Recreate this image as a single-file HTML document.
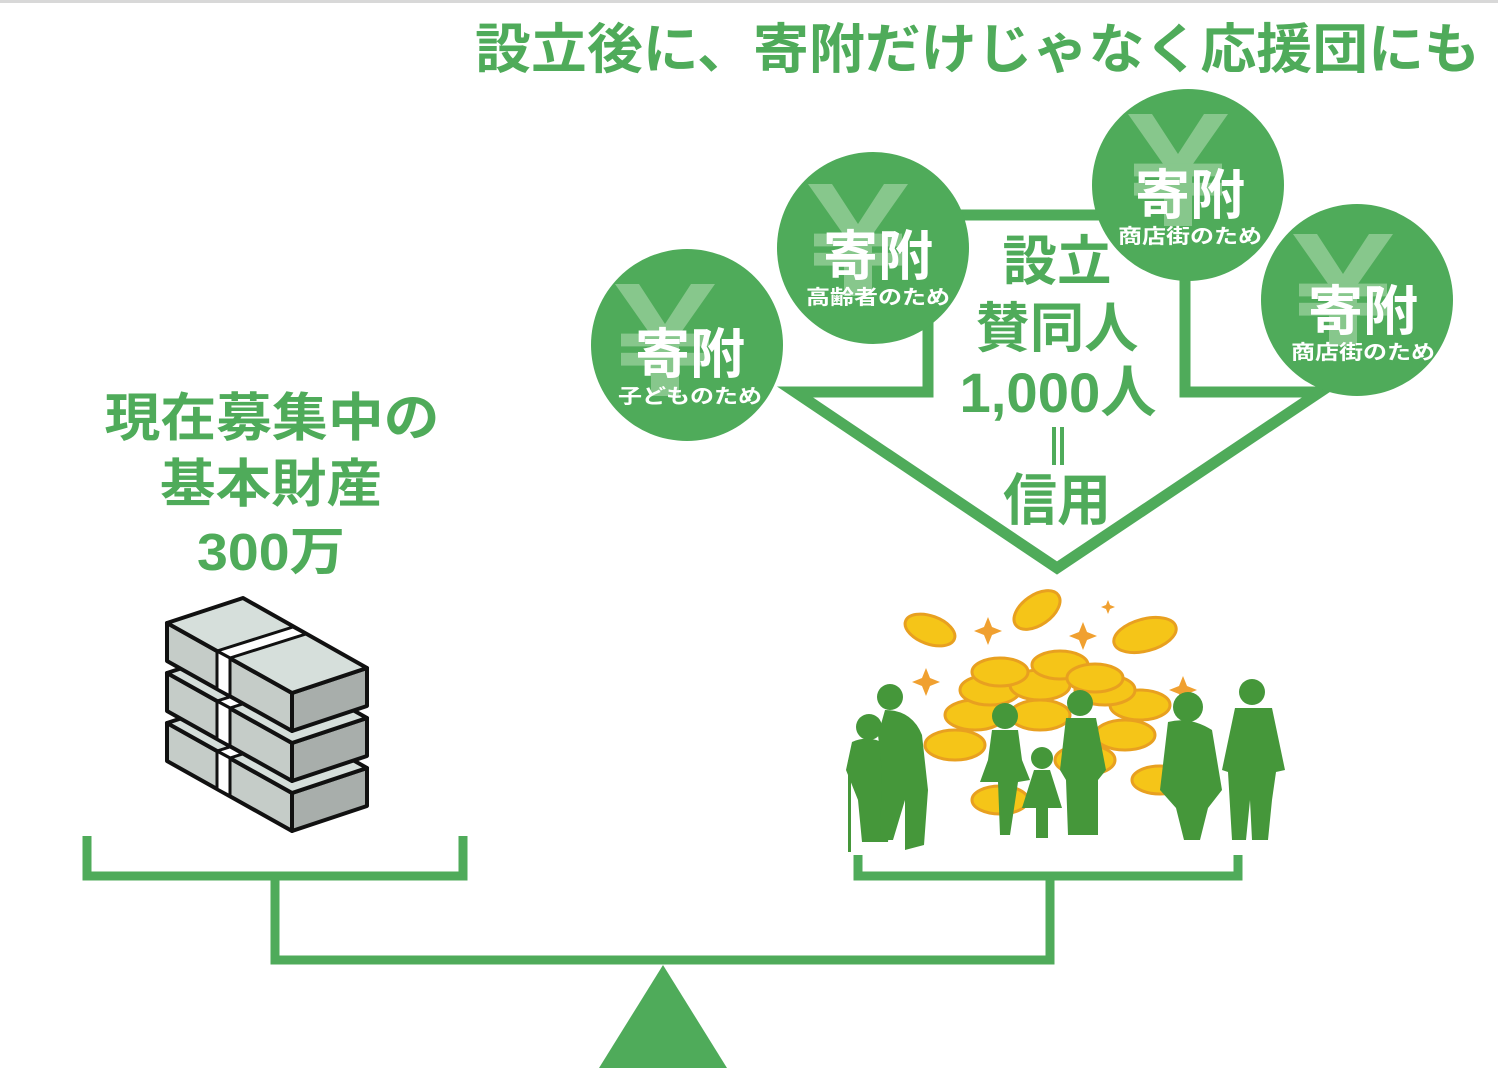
<!DOCTYPE html>
<html><head><meta charset="utf-8"><style>
html,body{margin:0;padding:0;background:#fff;}
svg{display:block}
text{font-family:"Liberation Sans","Noto Sans CJK JP",sans-serif;font-weight:bold}
</style></head><body>
<svg width="1498" height="1080" viewBox="0 0 1498 1080" xmlns="http://www.w3.org/2000/svg">
<rect x="0" y="0" width="1498" height="3" fill="#d8d8d8"/>
<text x="475" y="68" font-size="54" fill="#4fab5a" textLength="1005" lengthAdjust="spacingAndGlyphs">設立後に、寄附だけじゃなく応援団にも</text>

<g fill="#4fab5a" font-size="52" text-anchor="middle">
<text x="272" y="436" textLength="335" lengthAdjust="spacingAndGlyphs">現在募集中の</text>
<text x="271" y="502" textLength="222" lengthAdjust="spacingAndGlyphs">基本財産</text>
<text x="271" y="570" textLength="148" lengthAdjust="spacingAndGlyphs">300万</text>
</g>

<path d="M795 392 L928 392 L928 215 L1185 215 L1185 392 L1320 392 L1057 568 Z" fill="none" stroke="#4fab5a" stroke-width="11" stroke-linejoin="miter"/>

<g fill="#4fab5a" text-anchor="middle">
<text x="1057" y="280" font-size="54" textLength="109" lengthAdjust="spacingAndGlyphs">設立</text>
<text x="1057" y="347" font-size="54" textLength="163" lengthAdjust="spacingAndGlyphs">賛同人</text>
<text x="1058" y="412" font-size="56" textLength="197" lengthAdjust="spacingAndGlyphs">1,000人</text>
<rect x="1052" y="427" width="4" height="38"/><rect x="1060" y="427" width="4" height="38"/>
<text x="1057" y="520" font-size="56" textLength="108" lengthAdjust="spacingAndGlyphs">信用</text>
</g>

<defs>
<g id="yen">
<path d="M-50 -70 L-26 -70 L0 -20 L26 -70 L50 -70 L14 -6 L14 70 L-14 70 L-14 -6 Z" fill="#87c78c"/>
<rect x="-44" y="-8" width="88" height="16" fill="#87c78c"/>
<rect x="-44" y="16" width="88" height="16" fill="#87c78c"/>
</g>
</defs>
<g>
<circle cx="687" cy="345" r="96" fill="#4fab5a"/>
<use href="#yen" transform="translate(665 340) scale(1 0.8)"/>
<text x="690" y="373" font-size="54" fill="#fff" text-anchor="middle" textLength="110" lengthAdjust="spacingAndGlyphs">寄附</text>
<text x="690" y="403" font-size="20" fill="#fff" text-anchor="middle" textLength="144" lengthAdjust="spacingAndGlyphs">子どものため</text>

<circle cx="873" cy="248" r="96" fill="#4fab5a"/>
<use href="#yen" transform="translate(858 240) scale(1 0.8)"/>
<text x="878" y="275" font-size="54" fill="#fff" text-anchor="middle" textLength="110" lengthAdjust="spacingAndGlyphs">寄附</text>
<text x="878" y="304" font-size="20" fill="#fff" text-anchor="middle" textLength="144" lengthAdjust="spacingAndGlyphs">高齢者のため</text>

<circle cx="1188" cy="185" r="96" fill="#4fab5a"/>
<use href="#yen" transform="translate(1178 170) scale(1 0.8)"/>
<text x="1190" y="214" font-size="54" fill="#fff" text-anchor="middle" textLength="110" lengthAdjust="spacingAndGlyphs">寄附</text>
<text x="1190" y="243" font-size="20" fill="#fff" text-anchor="middle" textLength="144" lengthAdjust="spacingAndGlyphs">商店街のため</text>

<circle cx="1357" cy="300" r="96" fill="#4fab5a"/>
<use href="#yen" transform="translate(1343 290) scale(1 0.8)"/>
<text x="1363" y="330" font-size="54" fill="#fff" text-anchor="middle" textLength="110" lengthAdjust="spacingAndGlyphs">寄附</text>
<text x="1363" y="359" font-size="20" fill="#fff" text-anchor="middle" textLength="144" lengthAdjust="spacingAndGlyphs">商店街のため</text>
</g>

<defs>
<g id="brick" stroke="#111" stroke-width="4" stroke-linejoin="round">
<polygon points="167,623 292,693 292,731 167,661" fill="#c5ccc8"/>
<polygon points="292,693 367,668 367,706 292,731" fill="#a8aeab"/>
<polygon points="167,623 243,598 367,668 292,693" fill="#d6dfdb"/>
<polygon points="217,651 230,658 306,634 293,627" fill="#fff" stroke-width="3"/>
<polygon points="217,651 230,658 230,696 217,689" fill="#fff" stroke-width="3"/>
</g>
</defs>
<use href="#brick" transform="translate(0 100)"/>
<use href="#brick" transform="translate(0 50)"/>
<use href="#brick"/>

<g stroke="#e8a020" stroke-width="3">
<g fill="#f5c518">
<ellipse cx="1000" cy="800" rx="28" ry="14"/>
<ellipse cx="1160" cy="780" rx="28" ry="14"/>
<ellipse cx="955" cy="745" rx="30" ry="15"/>
<ellipse cx="1125" cy="735" rx="30" ry="15"/>
<ellipse cx="1085" cy="760" rx="30" ry="15"/>
<ellipse cx="975" cy="715" rx="30" ry="15"/>
<ellipse cx="1140" cy="705" rx="30" ry="15"/>
<ellipse cx="1040" cy="715" rx="30" ry="15"/>
<ellipse cx="990" cy="690" rx="30" ry="15"/>
<ellipse cx="1105" cy="690" rx="30" ry="15"/>
<ellipse cx="1040" cy="685" rx="30" ry="15"/>
<ellipse cx="1000" cy="672" rx="28" ry="14"/>
<ellipse cx="1060" cy="665" rx="28" ry="14"/>
<ellipse cx="1095" cy="678" rx="28" ry="14"/>
<ellipse cx="930" cy="630" rx="26" ry="14" transform="rotate(20 930 630)"/>
<ellipse cx="1037" cy="610" rx="26" ry="15" transform="rotate(-35 1037 610)"/>
<ellipse cx="1145" cy="635" rx="32" ry="16" transform="rotate(-15 1145 635)"/>
</g></g>
<g fill="#f0a030">
<path d="M988 617 l4 10 l10 4 l-10 4 l-4 10 l-4 -10 l-10 -4 l10 -4z"/>
<path d="M1083 622 l4 10 l10 4 l-10 4 l-4 10 l-4 -10 l-10 -4 l10 -4z"/>
<path d="M926 668 l4 10 l10 4 l-10 4 l-4 10 l-4 -10 l-10 -4 l10 -4z"/>
<path d="M1183 676 l4 10 l10 4 l-10 4 l-4 10 l-4 -10 l-10 -4 l10 -4z"/>
<path d="M1108 600 l2 5 l5 2 l-5 2 l-2 5 l-2 -5 l-5 -2 l5 -2z"/>
</g>

<g fill="#45973a">
<circle cx="869" cy="727" r="13"/>
<path d="M852 742 Q869 734 888 745 L892 800 L888 842 L862 842 L858 800 L846 770 Z"/>
<rect x="848" y="760" width="3" height="92"/>
<circle cx="890" cy="697" r="13"/>
<path d="M885 710 Q912 710 922 735 L928 790 L924 845 L905 850 L905 800 L893 840 L880 840 L882 770 L878 735 Z"/>
<circle cx="1005" cy="716" r="13"/>
<path d="M992 730 L1018 730 L1022 760 L1030 780 L1018 782 L1010 835 L1000 835 L998 782 L980 782 L988 760 Z"/>
<circle cx="1042" cy="758" r="11"/>
<path d="M1034 770 L1050 770 L1062 808 L1048 808 L1048 838 L1036 838 L1036 808 L1022 808 Z"/>
<circle cx="1080" cy="703" r="13"/>
<path d="M1066 718 L1096 718 L1106 770 L1098 780 L1098 835 L1068 835 L1066 780 L1060 770 Z"/>
<circle cx="1188" cy="707" r="15"/>
<path d="M1168 722 Q1190 716 1212 730 L1222 790 L1208 808 L1200 840 L1184 840 L1176 808 L1160 790 Z"/>
<circle cx="1252" cy="692" r="13"/>
<path d="M1235 708 L1272 708 L1285 770 L1276 772 L1272 800 L1268 840 L1252 840 L1250 800 L1246 840 L1232 840 L1228 772 L1222 770 Z"/>
</g>

<g fill="none" stroke="#4fab5a" stroke-width="9" stroke-linecap="butt" stroke-linejoin="miter">
<path d="M87 836 V876 H463 V836"/>
<path d="M275 876 V960 H1050 V878"/>
<path d="M858 855 V876 H1238 V855"/>
</g>
<polygon points="599,1068 663,965 727,1068" fill="#4fab5a"/>
</svg>
</body></html>
